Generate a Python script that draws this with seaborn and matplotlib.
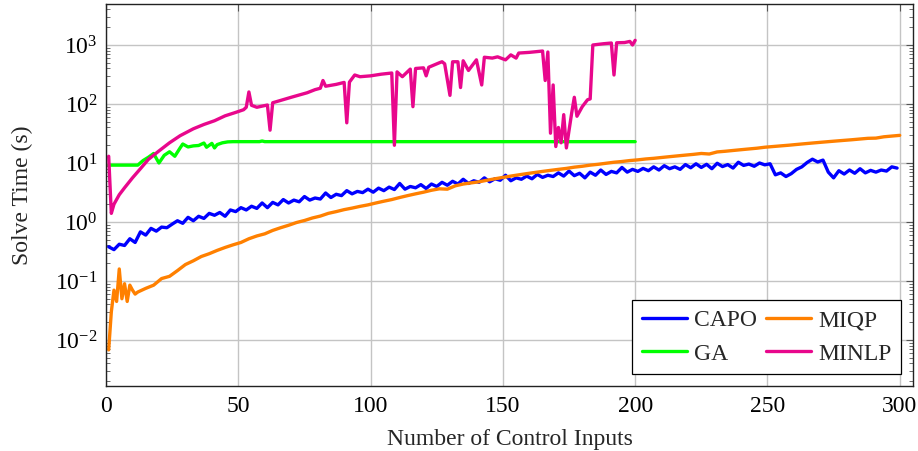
import numpy as np
import pandas as pd
import matplotlib
matplotlib.use('Agg')
import matplotlib.pyplot as plt
from matplotlib.ticker import LogLocator, NullFormatter
import seaborn as sns

# values
capo_x = list(range(1, 300, 2))
capo_y = [0.38, 0.34, 0.42, 0.40, 0.52, 0.45, 0.68, 0.60, 0.78, 0.70,
          0.82, 0.80, 0.92, 1.05, 0.95, 1.20, 1.05, 1.25, 1.15, 1.40,
          1.30, 1.45, 1.25, 1.60, 1.50, 1.75, 1.60, 1.85, 1.70, 2.10,
          1.75, 2.15, 1.95, 2.40, 2.10, 2.35, 2.20, 2.70, 2.35, 2.55,
          2.45, 3.10, 2.60, 2.95, 2.80, 3.40, 3.00, 3.30, 3.15, 3.60,
          3.20, 3.75, 3.40, 3.90, 3.55, 4.50, 3.60, 4.00, 3.80, 4.30,
          3.70, 4.40, 4.00, 4.70, 4.20, 4.90, 4.40, 5.30, 4.50, 5.00,
          4.70, 5.60, 4.80, 5.40, 5.10, 6.20, 5.00, 5.60, 5.30, 6.00,
          5.40, 6.40, 5.70, 6.20, 5.90, 6.80, 6.00, 7.30, 6.10, 6.70,
          5.60, 7.00, 6.20, 7.60, 6.40, 7.20, 6.80, 8.40, 7.00, 7.80,
          7.20, 8.10, 7.40, 8.60, 7.60, 9.00, 8.00, 8.60, 7.80, 9.40,
          8.30, 9.70, 8.40, 9.50, 8.00, 9.90, 8.70, 9.40, 8.20, 10.3,
          9.10, 9.60, 8.80, 10.0, 9.30, 9.70, 6.30, 6.80, 5.90, 6.60,
          7.80, 8.60, 10.2, 11.6, 10.4, 11.2, 7.00, 5.60, 7.40, 6.50,
          7.60, 6.70, 8.00, 6.80, 7.50, 7.00, 7.60, 7.30, 8.60, 8.20]

miqp_x = list(range(1, 13)) + list(range(15, 301, 3))
miqp_y = [0.0068, 0.030, 0.070, 0.045, 0.160, 0.050, 0.090, 0.045, 0.085, 0.070,
          0.060, 0.065,
          0.075, 0.085, 0.11, 0.12, 0.15, 0.19, 0.22, 0.26, 0.29, 0.33,
          0.37, 0.41, 0.45, 0.52, 0.58, 0.63, 0.72, 0.80, 0.88, 0.98,
          1.06, 1.17, 1.26, 1.40, 1.50, 1.62, 1.72, 1.84, 1.95, 2.10,
          2.25, 2.40, 2.60, 2.80, 3.00, 3.20, 3.45, 3.65, 3.60, 4.10,
          4.40, 4.60, 4.80, 5.10, 5.40, 5.70, 6.00, 6.30, 6.60, 6.90,
          7.20, 7.50, 7.80, 8.10, 8.50, 8.80, 9.20, 9.50, 9.90, 10.3,
          10.6, 11.0, 11.3, 11.7, 12.0, 12.4, 12.8, 13.2, 13.6, 14.0,
          14.5, 14.2, 15.4, 15.8, 16.3, 16.8, 17.3, 17.8, 18.5, 19.0,
          19.5, 20.0, 20.6, 21.2, 21.8, 22.4, 23.0, 23.6, 24.2, 24.8,
          25.5, 26.2, 26.4, 27.8, 28.6, 29.4]

ga_x = [1, 12, 14, 16, 18, 19, 20, 22, 24, 26, 28, 29, 31, 33, 35, 37, 38,
        40, 41, 42, 44, 46, 48, 58, 59, 60, 200]
ga_y = [9.2, 9.2, 11.0, 12.5, 14.5, 12.0, 10.0, 13.5, 15.5, 13.0, 18.0, 21.0,
        18.7, 19.5, 19.8, 21.8, 18.5, 21.5, 18.0, 20.5, 22.0, 22.8, 23.0,
        23.0, 23.6, 23.0, 23.0]

minlp_x = [1, 2, 3, 5, 7, 10, 13, 16, 20, 24, 28, 33, 37, 41, 45, 49, 52, 53,
           54, 55, 57, 59, 61, 62, 63, 66, 70, 73, 76, 79, 81, 82, 83, 87, 90,
           91, 92, 94, 96, 100, 104, 108, 109, 110, 112, 115, 116, 117, 120,
           121, 122, 126, 127, 128, 130, 131, 133, 134, 135, 137, 140, 142,
           143, 146, 148, 151, 153, 155, 156, 160, 165, 166, 167, 168, 169,
           170, 171, 172, 173, 174, 176, 177, 178, 180, 182, 183, 184, 188,
           190, 191, 192, 193, 196, 198, 199, 200]
minlp_y = [13, 1.4, 2.0, 2.9, 3.8, 5.6, 8.0, 11.5, 16, 22, 29, 38, 45, 52, 63,
           72, 80, 88, 160, 95, 88, 92, 96, 36, 105, 115, 130, 142, 155, 175,
           185, 250, 200, 215, 232, 48, 235, 310, 290, 300, 320, 335, 20, 350,
           290, 390, 90, 400, 410, 300, 420, 500, 520, 480, 140, 520, 520, 190,
           540, 370, 560, 210, 620, 600, 630, 560, 680, 600, 730, 750, 790,
           250, 760, 32, 210, 19, 40, 22, 66, 18, 70, 130, 62, 90, 118, 122,
           1000, 1050, 1070, 1080, 310, 1090, 1100, 1150, 1000, 1200]

sns.set_theme(style='whitegrid')
plt.rcParams['font.family'] = ['Liberation Serif', 'DejaVu Serif']
plt.rcParams['mathtext.fontset'] = 'stix'

fig = plt.figure(figsize=(9.18, 4.51), dpi=100)
ax = fig.add_axes([0.1155, 0.1441, 0.879, 0.847])

lw = 2.4
sns.lineplot(x=capo_x, y=capo_y, color='#0000ff', lw=lw, label='CAPO', ax=ax)
sns.lineplot(x=ga_x, y=ga_y, color='#00ff00', lw=lw, label='GA', ax=ax)
sns.lineplot(x=miqp_x, y=miqp_y, color='#ff8000', lw=lw, label='MIQP', ax=ax)
sns.lineplot(x=minlp_x, y=minlp_y, color='#e8078c', lw=lw, label='MINLP', ax=ax)

ax.set_yscale('log')
ax.set_xlim(0, 305)
ax.set_ylim(1.66e-3, 4950)
ax.set_xticks([0, 50, 100, 150, 200, 250, 300])
ax.set_yticks([1e-2, 1e-1, 1, 10, 100, 1000])
ax.yaxis.set_minor_locator(LogLocator(base=10, subs=np.arange(2, 10), numticks=20))
ax.yaxis.set_minor_formatter(NullFormatter())

ax.grid(True, which='major', color='#c4c4c4', lw=1.0)
ax.grid(False, which='minor')
for s in ax.spines.values():
    s.set_color('#222222')
    s.set_linewidth(1.0)
ax.tick_params(axis='both', which='both', direction='in', top=True, right=True,
               labelsize=17, colors='#555555', labelcolor='black')
ax.tick_params(axis='both', which='major', length=5, width=0.8)
ax.tick_params(axis='y', which='minor', length=3, width=0.6, left=True, right=True)
ax.tick_params(axis='x', which='major', pad=7)
ax.tick_params(axis='y', which='major', pad=6)

ax.set_xlabel('Number of Control Inputs', fontsize=17, labelpad=9)
ax.set_ylabel('Solve Time (s)', fontsize=17, labelpad=16)

leg = ax.legend(ncol=2, loc='lower right', fontsize=17, frameon=True, fancybox=False,
                edgecolor='black', framealpha=1, handlelength=1.9,
                columnspacing=0.4, handletextpad=0.3, borderpad=0.4,
                labelspacing=0.5, borderaxespad=0, bbox_to_anchor=(0.985, 0.031))
leg.get_frame().set_linewidth(0.9)

fig.savefig('out.png', dpi=100)
